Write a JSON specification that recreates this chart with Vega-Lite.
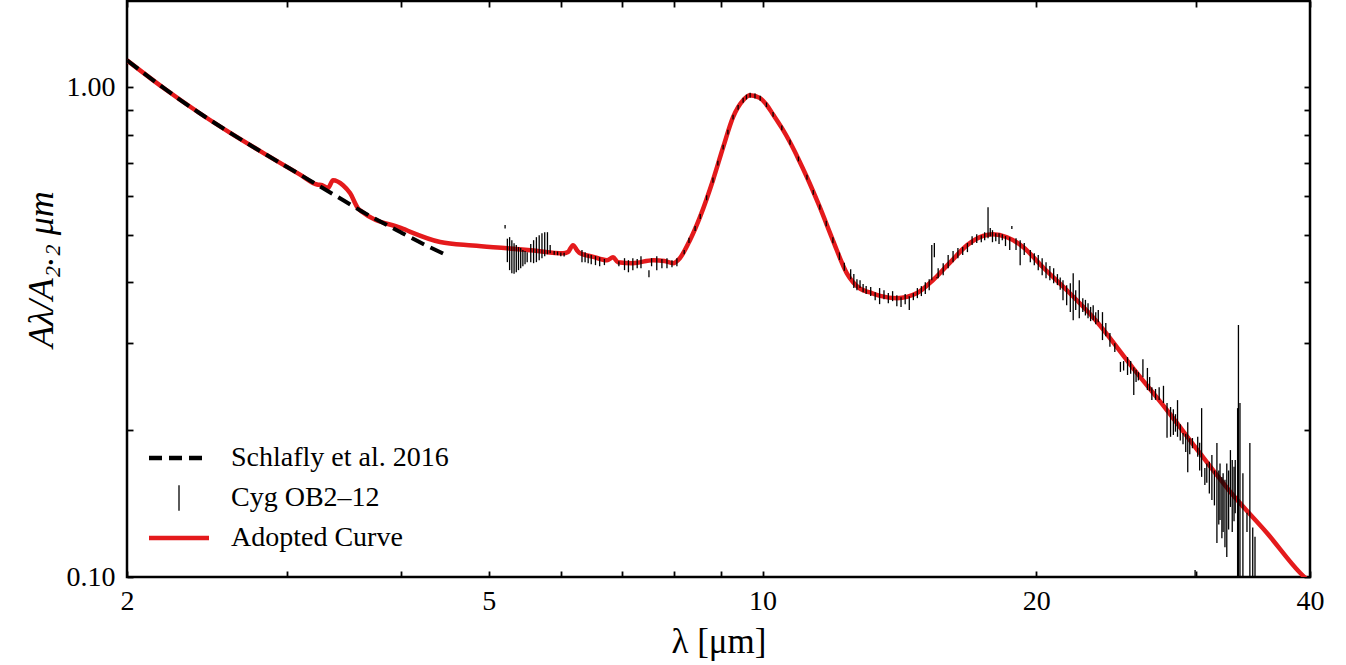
{
  "$schema": "https://vega.github.io/schema/vega-lite/v6.json",
  "width": 1183,
  "height": 576,
  "autosize": {"type": "none"},
  "padding": {"left": 127, "top": 1, "right": 36, "bottom": 88},
  "background": "white",
  "config": {
    "view": {"stroke": "black", "strokeWidth": 2.5},
    "font": "Liberation Serif",
    "axis": {
      "grid": false, "domain": false, "tickColor": "black", "tickWidth": 1.8,
      "labelFont": "Liberation Serif", "labelFontSize": 28, "labelColor": "black",
      "titleFont": "Liberation Serif", "titleFontSize": 35, "titleColor": "black", "titleFontWeight": "normal",
      "labelOverlap": false, "labelFlush": false
    }
  },
  "datasets": {
    "curve": [
      {"lam": 2.0, "v": 1.135}, {"lam": 2.2, "v": 0.993}, {"lam": 2.4, "v": 0.887}, {"lam": 2.6, "v": 0.806},
      {"lam": 2.85, "v": 0.727}, {"lam": 3.1, "v": 0.663}, {"lam": 3.236, "v": 0.633}, {"lam": 3.278, "v": 0.631},
      {"lam": 3.327, "v": 0.622}, {"lam": 3.37, "v": 0.646}, {"lam": 3.456, "v": 0.631}, {"lam": 3.518, "v": 0.608},
      {"lam": 3.59, "v": 0.566}, {"lam": 3.63, "v": 0.556}, {"lam": 4.0, "v": 0.516}, {"lam": 4.42, "v": 0.483},
      {"lam": 4.8, "v": 0.475}, {"lam": 5.236, "v": 0.469}, {"lam": 5.6, "v": 0.464}, {"lam": 6.033, "v": 0.458},
      {"lam": 6.11, "v": 0.461}, {"lam": 6.187, "v": 0.476}, {"lam": 6.26, "v": 0.463}, {"lam": 6.3, "v": 0.458},
      {"lam": 6.5, "v": 0.451}, {"lam": 6.745, "v": 0.4435}, {"lam": 6.848, "v": 0.4497}, {"lam": 6.934, "v": 0.4394},
      {"lam": 7.2, "v": 0.4373}, {"lam": 7.58, "v": 0.4435}, {"lam": 7.8, "v": 0.442}, {"lam": 7.97, "v": 0.4373},
      {"lam": 8.11, "v": 0.4477}, {"lam": 8.32, "v": 0.4872}, {"lam": 8.54, "v": 0.545}, {"lam": 8.82, "v": 0.646},
      {"lam": 9.05, "v": 0.754}, {"lam": 9.28, "v": 0.869}, {"lam": 9.52, "v": 0.941}, {"lam": 9.69, "v": 0.963},
      {"lam": 9.94, "v": 0.950}, {"lam": 10.1, "v": 0.921}, {"lam": 10.27, "v": 0.880}, {"lam": 10.5, "v": 0.826},
      {"lam": 10.72, "v": 0.772}, {"lam": 10.95, "v": 0.714}, {"lam": 11.19, "v": 0.655},
      {"lam": 11.56, "v": 0.569}, {"lam": 11.95, "v": 0.487}, {"lam": 12.38, "v": 0.417}, {"lam": 12.8, "v": 0.388},
      {"lam": 13.13, "v": 0.381}, {"lam": 13.47, "v": 0.375}, {"lam": 14.05, "v": 0.371}, {"lam": 14.79, "v": 0.380},
      {"lam": 15.4, "v": 0.404}, {"lam": 16.08, "v": 0.439}, {"lam": 16.79, "v": 0.476}, {"lam": 17.48, "v": 0.497},
      {"lam": 17.92, "v": 0.501}, {"lam": 18.57, "v": 0.494}, {"lam": 19.34, "v": 0.472}, {"lam": 20.34, "v": 0.429},
      {"lam": 21.61, "v": 0.385}, {"lam": 23.09, "v": 0.339}, {"lam": 25.55, "v": 0.267}, {"lam": 27.85, "v": 0.219},
      {"lam": 30.27, "v": 0.179}, {"lam": 32.91, "v": 0.147}, {"lam": 35.87, "v": 0.123}, {"lam": 39.0, "v": 0.102},
      {"lam": 40.0, "v": 0.0975}
    ],
    "schlafly": [
      {"lam": 2.0, "v": 1.135}, {"lam": 2.2, "v": 0.993}, {"lam": 2.4, "v": 0.887}, {"lam": 2.6, "v": 0.806},
      {"lam": 2.85, "v": 0.727}, {"lam": 3.1, "v": 0.663}, {"lam": 3.37, "v": 0.605}, {"lam": 3.63, "v": 0.557},
      {"lam": 4.0, "v": 0.5055}, {"lam": 4.25, "v": 0.477}, {"lam": 4.47, "v": 0.456}
    ],
    "cyg": [
      {"lam": 5.21, "lo": 0.515, "hi": 0.523}, {"lam": 5.24, "lo": 0.4394, "hi": 0.4907}, {"lam": 5.27, "lo": 0.4232, "hi": 0.4942},
      {"lam": 5.30, "lo": 0.4173, "hi": 0.4872}, {"lam": 5.33, "lo": 0.416, "hi": 0.480}, {"lam": 5.36, "lo": 0.419, "hi": 0.4761},
      {"lam": 5.39, "lo": 0.4232, "hi": 0.4716}, {"lam": 5.42, "lo": 0.4272, "hi": 0.4694}, {"lam": 5.45, "lo": 0.431, "hi": 0.465},
      {"lam": 5.48, "lo": 0.435, "hi": 0.463}, {"lam": 5.51, "lo": 0.4394, "hi": 0.4606},
      {"lam": 5.56, "lo": 0.4394, "hi": 0.4783}, {"lam": 5.60, "lo": 0.4373, "hi": 0.4872}, {"lam": 5.64, "lo": 0.4394, "hi": 0.4942},
      {"lam": 5.68, "lo": 0.4435, "hi": 0.4989}, {"lam": 5.72, "lo": 0.4477, "hi": 0.5036}, {"lam": 5.76, "lo": 0.452, "hi": 0.5059},
      {"lam": 5.80, "lo": 0.456, "hi": 0.5059}, {"lam": 5.84, "lo": 0.4583, "hi": 0.4761},
      {"lam": 5.90, "lo": 0.455, "hi": 0.463}, {"lam": 5.95, "lo": 0.454, "hi": 0.462}, {"lam": 6.00, "lo": 0.452, "hi": 0.460},
      {"lam": 6.05, "lo": 0.451, "hi": 0.459}, {"lam": 6.33, "lo": 0.4394, "hi": 0.465}, {"lam": 6.38, "lo": 0.4394, "hi": 0.4606},
      {"lam": 6.43, "lo": 0.437, "hi": 0.456}, {"lam": 6.48, "lo": 0.435, "hi": 0.4545}, {"lam": 6.55, "lo": 0.4333, "hi": 0.452},
      {"lam": 6.62, "lo": 0.431, "hi": 0.4497}, {"lam": 6.70, "lo": 0.4333, "hi": 0.446}, {"lam": 6.95, "lo": 0.431, "hi": 0.4415},
      {"lam": 7.05, "lo": 0.4232, "hi": 0.4477}, {"lam": 7.12, "lo": 0.419, "hi": 0.4435}, {"lam": 7.20, "lo": 0.4232, "hi": 0.4477},
      {"lam": 7.28, "lo": 0.427, "hi": 0.446}, {"lam": 7.35, "lo": 0.427, "hi": 0.452}, {"lam": 7.50, "lo": 0.4095, "hi": 0.4232},
      {"lam": 7.55, "lo": 0.431, "hi": 0.4477}, {"lam": 7.65, "lo": 0.4232, "hi": 0.452}, {"lam": 7.75, "lo": 0.4272, "hi": 0.446},
      {"lam": 7.85, "lo": 0.4272, "hi": 0.4477}, {"lam": 7.95, "lo": 0.429, "hi": 0.4435}, {"lam": 8.05, "lo": 0.431, "hi": 0.4477},
      {"lam": 8.20, "lo": 0.456, "hi": 0.465},
      {"lam": 8.30, "lo": 0.481, "hi": 0.493}, {"lam": 8.43, "lo": 0.509, "hi": 0.521}, {"lam": 8.54, "lo": 0.538, "hi": 0.551},
      {"lam": 8.68, "lo": 0.588, "hi": 0.602}, {"lam": 8.82, "lo": 0.638, "hi": 0.654}, {"lam": 8.93, "lo": 0.692, "hi": 0.708},
      {"lam": 9.05, "lo": 0.746, "hi": 0.763}, {"lam": 9.16, "lo": 0.801, "hi": 0.819}, {"lam": 9.28, "lo": 0.859, "hi": 0.879},
      {"lam": 9.40, "lo": 0.900, "hi": 0.920}, {"lam": 9.52, "lo": 0.930, "hi": 0.952}, {"lam": 9.60, "lo": 0.944, "hi": 0.966},
      {"lam": 9.69, "lo": 0.952, "hi": 0.974}, {"lam": 9.81, "lo": 0.949, "hi": 0.971}, {"lam": 9.94, "lo": 0.939, "hi": 0.961},
      {"lam": 10.10, "lo": 0.911, "hi": 0.931}, {"lam": 10.27, "lo": 0.870, "hi": 0.890}, {"lam": 10.50, "lo": 0.817, "hi": 0.835},
      {"lam": 10.72, "lo": 0.763, "hi": 0.781}, {"lam": 10.95, "lo": 0.706, "hi": 0.722}, {"lam": 11.19, "lo": 0.647, "hi": 0.663},
      {"lam": 11.37, "lo": 0.603, "hi": 0.617}, {"lam": 11.56, "lo": 0.562, "hi": 0.576}, {"lam": 11.75, "lo": 0.520, "hi": 0.534},
      {"lam": 11.95, "lo": 0.480, "hi": 0.494}, {"lam": 12.15, "lo": 0.444, "hi": 0.460}, {"lam": 12.30, "lo": 0.422, "hi": 0.438},
      {"lam": 12.5, "lo": 0.4056, "hi": 0.4252}, {"lam": 12.6, "lo": 0.3890, "hi": 0.4154}, {"lam": 12.7, "lo": 0.3852, "hi": 0.4056},
      {"lam": 12.8, "lo": 0.3890, "hi": 0.4037}, {"lam": 12.9, "lo": 0.3816, "hi": 0.3963}, {"lam": 13.0, "lo": 0.3781, "hi": 0.3926},
      {"lam": 13.15, "lo": 0.3746, "hi": 0.3908}, {"lam": 13.3, "lo": 0.3675, "hi": 0.3816}, {"lam": 13.45, "lo": 0.3607, "hi": 0.3890},
      {"lam": 13.6, "lo": 0.3692, "hi": 0.3852}, {"lam": 13.75, "lo": 0.3624, "hi": 0.3799}, {"lam": 13.9, "lo": 0.3658, "hi": 0.3834},
      {"lam": 14.05, "lo": 0.3573, "hi": 0.3763}, {"lam": 14.2, "lo": 0.3557, "hi": 0.3727}, {"lam": 14.35, "lo": 0.3607, "hi": 0.3781},
      {"lam": 14.5, "lo": 0.3507, "hi": 0.3745}, {"lam": 14.65, "lo": 0.3675, "hi": 0.3799}, {"lam": 14.8, "lo": 0.3710, "hi": 0.3890},
      {"lam": 14.95, "lo": 0.3746, "hi": 0.3926}, {"lam": 15.1, "lo": 0.3781, "hi": 0.3999}, {"lam": 15.25, "lo": 0.3852, "hi": 0.4056},
      {"lam": 15.35, "lo": 0.4037, "hi": 0.4761}, {"lam": 15.45, "lo": 0.4499, "hi": 0.4806}, {"lam": 15.55, "lo": 0.4076, "hi": 0.4095},
      {"lam": 15.6, "lo": 0.4076, "hi": 0.4272}, {"lam": 15.8, "lo": 0.4134, "hi": 0.4373}, {"lam": 16.0, "lo": 0.4272, "hi": 0.4545},
      {"lam": 16.2, "lo": 0.4394, "hi": 0.4628}, {"lam": 16.4, "lo": 0.4477, "hi": 0.4694}, {"lam": 16.6, "lo": 0.4545, "hi": 0.4716},
      {"lam": 16.8, "lo": 0.4606, "hi": 0.4806}, {"lam": 17.0, "lo": 0.4761, "hi": 0.4966}, {"lam": 17.2, "lo": 0.4806, "hi": 0.5012},
      {"lam": 17.4, "lo": 0.4826, "hi": 0.4989}, {"lam": 17.55, "lo": 0.4872, "hi": 0.5059}, {"lam": 17.7, "lo": 0.4919, "hi": 0.5687},
      {"lam": 17.8, "lo": 0.4966, "hi": 0.5158}, {"lam": 17.9, "lo": 0.4826, "hi": 0.5107}, {"lam": 18.05, "lo": 0.4849, "hi": 0.5036},
      {"lam": 18.2, "lo": 0.4783, "hi": 0.5036}, {"lam": 18.35, "lo": 0.4872, "hi": 0.5012}, {"lam": 18.5, "lo": 0.4739, "hi": 0.4966},
      {"lam": 18.7, "lo": 0.4650, "hi": 0.4942}, {"lam": 18.8, "lo": 0.5134, "hi": 0.5206}, {"lam": 19.0, "lo": 0.4650, "hi": 0.4919},
      {"lam": 19.2, "lo": 0.4333, "hi": 0.4872}, {"lam": 19.4, "lo": 0.4545, "hi": 0.4806}, {"lam": 19.7, "lo": 0.4394, "hi": 0.4650},
      {"lam": 19.9, "lo": 0.4333, "hi": 0.4583}, {"lam": 20.1, "lo": 0.4232, "hi": 0.4545}, {"lam": 20.3, "lo": 0.4134, "hi": 0.4477},
      {"lam": 20.5, "lo": 0.4076, "hi": 0.4394}, {"lam": 20.7, "lo": 0.4037, "hi": 0.4313}, {"lam": 20.9, "lo": 0.3981, "hi": 0.4272},
      {"lam": 21.1, "lo": 0.3944, "hi": 0.4154}, {"lam": 21.25, "lo": 0.3860, "hi": 0.4090}, {"lam": 21.4, "lo": 0.3675, "hi": 0.4037},
      {"lam": 21.6, "lo": 0.3590, "hi": 0.3944}, {"lam": 21.8, "lo": 0.3474, "hi": 0.3981}, {"lam": 21.96, "lo": 0.3345, "hi": 0.4173},
      {"lam": 22.1, "lo": 0.3507, "hi": 0.3852}, {"lam": 22.3, "lo": 0.3377, "hi": 0.4037}, {"lam": 22.5, "lo": 0.3474, "hi": 0.3710},
      {"lam": 22.65, "lo": 0.3420, "hi": 0.3680}, {"lam": 22.8, "lo": 0.3377, "hi": 0.3624}, {"lam": 22.95, "lo": 0.3330, "hi": 0.3560},
      {"lam": 23.1, "lo": 0.3345, "hi": 0.3590}, {"lam": 23.25, "lo": 0.3280, "hi": 0.3470}, {"lam": 23.4, "lo": 0.3314, "hi": 0.3507},
      {"lam": 23.65, "lo": 0.3046, "hi": 0.3474}, {"lam": 23.85, "lo": 0.3100, "hi": 0.3300},
      {"lam": 24.1, "lo": 0.2951, "hi": 0.3151}, {"lam": 24.4, "lo": 0.288, "hi": 0.300}, {"lam": 24.75, "lo": 0.2623, "hi": 0.2749},
      {"lam": 24.95, "lo": 0.2640, "hi": 0.2760}, {"lam": 25.2, "lo": 0.2585, "hi": 0.2812}, {"lam": 25.4, "lo": 0.2600, "hi": 0.2760},
      {"lam": 25.6, "lo": 0.2352, "hi": 0.2682}, {"lam": 25.75, "lo": 0.2500, "hi": 0.2650},
      {"lam": 25.9, "lo": 0.252, "hi": 0.262}, {"lam": 26.2, "lo": 0.2558, "hi": 0.2784}, {"lam": 26.5, "lo": 0.2408, "hi": 0.2672},
      {"lam": 26.65, "lo": 0.2400, "hi": 0.2560},
      {"lam": 26.8, "lo": 0.2297, "hi": 0.2441}, {"lam": 27.05, "lo": 0.2300, "hi": 0.2420}, {"lam": 27.3, "lo": 0.2297, "hi": 0.2441},
      {"lam": 27.6, "lo": 0.2266, "hi": 0.2457}, {"lam": 27.85, "lo": 0.1924, "hi": 0.2266}, {"lam": 28.1, "lo": 0.1933, "hi": 0.2224},
      {"lam": 28.3, "lo": 0.1950, "hi": 0.2200}, {"lam": 28.45, "lo": 0.1980, "hi": 0.2150}, {"lam": 28.6, "lo": 0.1933, "hi": 0.2297},
      {"lam": 28.8, "lo": 0.1900, "hi": 0.2050}, {"lam": 29.0, "lo": 0.1866, "hi": 0.1967},
      {"lam": 29.2, "lo": 0.1800, "hi": 0.1960},
      {"lam": 29.35, "lo": 0.1637, "hi": 0.2071}, {"lam": 29.5, "lo": 0.1780, "hi": 0.1920}, {"lam": 29.7, "lo": 0.1832, "hi": 0.1922}, {"lam": 29.9, "lo": 0.095, "hi": 0.1033},
      {"lam": 30.1, "lo": 0.1761, "hi": 0.1933}, {"lam": 30.25, "lo": 0.1650, "hi": 0.1880}, {"lam": 30.4, "lo": 0.1601, "hi": 0.2212}, {"lam": 30.65, "lo": 0.1542, "hi": 0.1669},
      {"lam": 30.8, "lo": 0.1558, "hi": 0.1706}, {"lam": 31.0, "lo": 0.148, "hi": 0.172}, {"lam": 31.2, "lo": 0.1436, "hi": 0.1774},
      {"lam": 31.4, "lo": 0.140, "hi": 0.165}, {"lam": 31.6, "lo": 0.1173, "hi": 0.1877}, {"lam": 31.75, "lo": 0.1280, "hi": 0.1650}, {"lam": 31.85, "lo": 0.1307, "hi": 0.1706},
      {"lam": 32.0, "lo": 0.1200, "hi": 0.1600},
      {"lam": 32.1, "lo": 0.1235, "hi": 0.1628}, {"lam": 32.25, "lo": 0.1150, "hi": 0.1580}, {"lam": 32.4, "lo": 0.1099, "hi": 0.1706}, {"lam": 32.55, "lo": 0.1250, "hi": 0.1650}, {"lam": 32.7, "lo": 0.1390, "hi": 0.1816},
      {"lam": 32.85, "lo": 0.1235, "hi": 0.1733}, {"lam": 33.0, "lo": 0.1300, "hi": 0.1680}, {"lam": 33.1, "lo": 0.1350, "hi": 0.1733}, {"lam": 33.3, "lo": 0.0895, "hi": 0.2212},
      {"lam": 33.37, "lo": 0.0895, "hi": 0.3269}, {"lam": 33.5, "lo": 0.0895, "hi": 0.2266}, {"lam": 33.75, "lo": 0.0895, "hi": 0.1628},
      {"lam": 34.1, "lo": 0.1235, "hi": 0.1352}, {"lam": 34.35, "lo": 0.0895, "hi": 0.1877}, {"lam": 34.6, "lo": 0.0895, "hi": 0.1262},
      {"lam": 34.8, "lo": 0.0895, "hi": 0.1209}
    ]
  },
  "layer": [
    {
      "data": {"name": "curve"},
      "mark": {"type": "line", "strokeWidth": 4.5, "interpolate": "monotone", "clip": true},
      "encoding": {
        "x": {
          "field": "lam", "type": "quantitative",
          "scale": {"type": "log", "domain": [2, 40], "nice": false},
          "axis": {
            "orient": "bottom", "values": [2, 3, 4, 5, 6, 7, 8, 9, 10, 20, 30, 40],
            "labelExpr": "indexof([2, 5, 10, 20, 40], datum.value) >= 0 ? datum.value : ''",
            "labelFont": "Liberation Serif", "titleFont": "Liberation Serif",
            "tickSize": -6, "labelPadding": 16, "title": "λ [μm]", "titlePadding": 9,
            "encode": {"ticks": {"update": {"y2": {"signal": "indexof([2, 5, 10, 20, 40], datum.value) >= 0 ? -10 : -6"}}}}
          }
        },
        "y": {
          "field": "v", "type": "quantitative",
          "scale": {"type": "log", "domain": [0.1, 1.5], "nice": false},
          "axis": {
            "orient": "left", "values": [0.1, 0.2, 0.3, 0.4, 0.5, 0.6, 0.7, 0.8, 0.9, 1],
            "labelExpr": "datum.value == 1 ? '1.00' : (datum.value == 0.1 ? '0.10' : '')",
            "labelFont": "Liberation Serif", "titleFont": "Liberation Serif",
            "tickSize": -6, "labelPadding": 18, "title": "Aλ/A₂.₂ μm", "titleFontStyle": "italic", "titleFontSize": 36,
            "titlePadding": 6, "titleY": 268,
            "encode": {"ticks": {"update": {"x2": {"signal": "datum.value == 1 || datum.value == 0.1 ? 10 : 6"}}}}
          }
        },
        "color": {
          "datum": "Adopted Curve",
          "scale": {"domain": ["Schlafly et al. 2016", "Cyg OB2–12", "Adopted Curve"], "range": ["#000000", "#000000", "#e41a1c"]},
          "legend": {
            "orient": "none", "legendX": 38, "legendY": 443, "title": null,
            "labelFont": "Liberation Serif", "labelFontSize": 28, "labelColor": "black", "labelLimit": 500,
            "symbolSize": 900, "labelOffset": 38, "rowPadding": 10, "padding": 0, "symbolOffset": 0,
            "encode": {
              "symbols": {
                "update": {
                  "shape": {"signal": "datum.value === 'Cyg OB2–12' ? 'M0,-0.85L0,0.85' : 'M-2,0L2,0'"},
                  "strokeDash": {"signal": "datum.value === 'Schlafly et al. 2016' ? [13, 7] : [1, 0]"},
                  "strokeWidth": {"signal": "datum.value === 'Cyg OB2–12' ? 1.3 : 4.5"}
                }
              }
            }
          }
        }
      }
    },
    {
      "data": {"name": "schlafly"},
      "mark": {"type": "line", "strokeWidth": 4, "strokeDash": [14, 7], "interpolate": "monotone", "clip": true},
      "encoding": {
        "x": {
          "field": "lam", "type": "quantitative",
          "scale": {"type": "log", "domain": [2, 40], "nice": false},
          "axis": {
            "orient": "top", "values": [2, 3, 4, 5, 6, 7, 8, 9, 10, 20, 30, 40],
            "labels": false, "title": null, "tickSize": -6,
            "encode": {"ticks": {"update": {"y2": {"signal": "indexof([2, 5, 10, 20, 40], datum.value) >= 0 ? 10 : 6"}}}}
          }
        },
        "y": {
          "field": "v", "type": "quantitative",
          "scale": {"type": "log", "domain": [0.1, 1.5], "nice": false},
          "axis": {
            "orient": "right", "values": [0.1, 0.2, 0.3, 0.4, 0.5, 0.6, 0.7, 0.8, 0.9, 1],
            "labels": false, "title": null, "tickSize": -6,
            "encode": {"ticks": {"update": {"x2": {"signal": "datum.value == 1 || datum.value == 0.1 ? -10 : -6"}}}}
          }
        },
        "color": {
          "datum": "Schlafly et al. 2016",
          "scale": {"domain": ["Schlafly et al. 2016", "Cyg OB2–12", "Adopted Curve"], "range": ["#000000", "#000000", "#e41a1c"]}
        }
      }
    },
    {
      "data": {"name": "cyg"},
      "mark": {"type": "rule", "strokeWidth": 1.3, "clip": true},
      "encoding": {
        "x": {"field": "lam", "type": "quantitative", "scale": {"type": "log", "domain": [2, 40], "nice": false}, "axis": null},
        "y": {"field": "lo", "type": "quantitative", "scale": {"type": "log", "domain": [0.1, 1.5], "nice": false}, "axis": null},
        "y2": {"field": "hi"},
        "color": {
          "datum": "Cyg OB2–12",
          "scale": {"domain": ["Schlafly et al. 2016", "Cyg OB2–12", "Adopted Curve"], "range": ["#000000", "#000000", "#e41a1c"]}
        }
      }
    }
  ],
  "resolve": {"axis": {"x": "independent", "y": "independent"}}
}
